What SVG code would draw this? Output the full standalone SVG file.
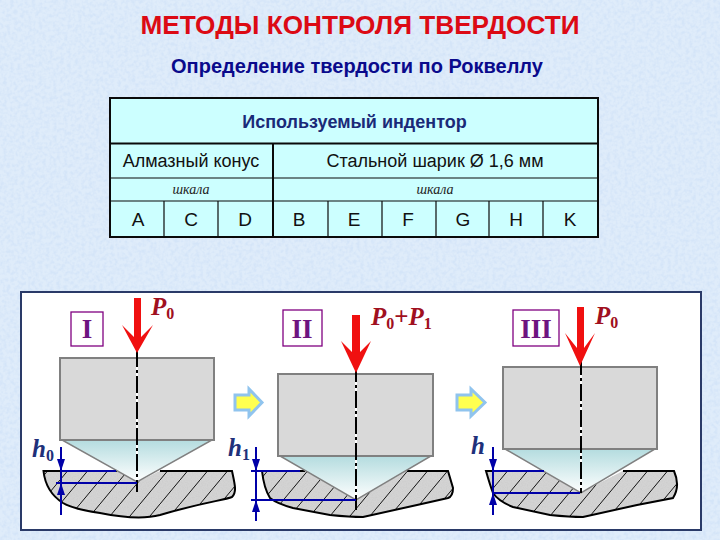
<svg xmlns="http://www.w3.org/2000/svg" width="720" height="540" viewBox="0 0 720 540">
<style>
text{font-family:"Liberation Sans",Arial,sans-serif}
.cell{font-size:18px;fill:#111;text-anchor:middle}
.letter{font-size:19px;fill:#111;text-anchor:middle}
.sc{font-family:"Liberation Serif",serif;font-style:italic;font-size:14px;fill:#222;text-anchor:middle}
.tl{stroke:#0a0a0a;stroke-width:1.2;fill:none}
.tb{stroke:#0a0a0a;stroke-width:2;fill:none}
.body{fill:#d9d9d9;stroke:#808080;stroke-width:2}
.cone{fill:url(#cg);stroke:#808080;stroke-width:1.5}
.spec{fill:#d3d3d3;stroke:none}
.outline{fill:none;stroke:#000;stroke-width:2}
.axb{stroke:#fff;stroke-width:2;fill:none}
.ax{stroke:#000;stroke-width:2;stroke-dasharray:17 3 3 3;fill:none}
.bl{stroke:#0000a8;stroke-width:2;fill:none}
.bh{fill:#0000a8}
.red{fill:#f01010}
.pw{font-family:"Liberation Serif",serif;font-weight:bold;font-style:italic;fill:#a01020;font-size:25px}
.hw{font-family:"Liberation Serif",serif;font-weight:bold;font-style:italic;fill:#20307a;font-size:25px}
.box{fill:#fff;stroke:#800080;stroke-width:1.3}
.rom{font-family:"Liberation Serif",serif;font-weight:bold;fill:#6e1480;font-size:27px;text-anchor:middle}
.blk{fill:#ffff50;stroke:#90c4ee;stroke-width:3}
</style>
<defs>
<filter id="tex" x="0" y="0" width="100%" height="100%"><feTurbulence type="fractalNoise" baseFrequency="0.28" numOctaves="2" seed="4"/><feColorMatrix values="0 0 0 0 0.66  0 0 0 0 0.78  0 0 0 0 0.94  2.6 0 0 0 -1"/></filter>
<filter id="grain" x="0" y="0" width="100%" height="100%"><feTurbulence type="fractalNoise" baseFrequency="0.8" numOctaves="1" seed="9"/><feColorMatrix values="0 0 0 0 0.62  0 0 0 0 0.62  0 0 0 0 0.62  3 0 0 0 -1.2"/></filter>
<linearGradient id="cg" x1="0" y1="0" x2="0" y2="1"><stop offset="0" stop-color="#b4dcdf"/><stop offset="1" stop-color="#ffffff"/></linearGradient>
<pattern id="hatch" width="20" height="24" patternUnits="userSpaceOnUse"><path d="M-1 25.200L21 -1.200" stroke="#111" stroke-width="1"/></pattern>
<clipPath id="c1"><path d="M43.500 471L117 471L137 482L160 471L232 471C235 485 237 492 232 497C225 500 200 503 160 515C145 519 125 518 100 513C80 510 68 506 63 503C52 496 45 485 43.500 471Z"/></clipPath>
<clipPath id="c2"><path d="M262 471L305 471L356 500L407 471L448 471L453 488C453 494 451 497 448 498L417 505L363 517C350 517 340 516 330 515L293 508C282 505 275 502 270 498C265 490 263 480 262 471Z"/></clipPath>
<clipPath id="c3"><path d="M486 471L544 471L580 493L623 471L674 471C678 480 678 490 673 498L637 505L583 517C570 517 560 516 550 515L513 507C503 503 497 499 493 493C490 485 488 478 486 471Z"/></clipPath>
</defs>
<g id="background">
<rect width="720" height="540" fill="#dfecfa"/>
<rect width="720" height="540" filter="url(#tex)"/>
</g>
<g id="title">
<text x="360" y="34" text-anchor="middle" font-size="26" font-weight="bold" fill="#dc0a14" textLength="439" lengthAdjust="spacingAndGlyphs">МЕТОДЫ КОНТРОЛЯ ТВЕРДОСТИ</text>
<text x="357" y="73" text-anchor="middle" font-size="20" font-weight="bold" fill="#0a0a8c">Определение твердости по Роквеллу</text>
</g>
<g id="table">
<rect x="110" y="98" width="488" height="139" fill="#ccffff"/>
<path class="tl" d="M110 178H598M110 201H598M164 201V237M218 201V237M328 201V237M382 201V237M436 201V237M489 201V237M543 201V237"/>
<path class="tb" d="M110 143.500H598M273 143.500V237"/>
<rect class="tb" x="110" y="98" width="488" height="139"/>
<text x="354.500" y="128" text-anchor="middle" font-size="18" font-weight="bold" fill="#1a2a78">Используемый индентор</text>
<text class="cell" x="191" y="167">Алмазный конус</text>
<text class="cell" x="435" y="167">Стальной шарик Ø 1,6 мм</text>
<text class="sc" x="191" y="194">шкала</text>
<text class="sc" x="435" y="194">шкала</text>
<text class="letter" x="138" y="226">A</text>
<text class="letter" x="191" y="226">C</text>
<text class="letter" x="245" y="226">D</text>
<text class="letter" x="299" y="226">B</text>
<text class="letter" x="354" y="226">E</text>
<text class="letter" x="408" y="226">F</text>
<text class="letter" x="463" y="226">G</text>
<text class="letter" x="516" y="226">H</text>
<text class="letter" x="570" y="226">K</text>
</g>
<g id="panel"><rect x="21" y="292" width="680" height="238" fill="#fff" stroke="#2a3a68" stroke-width="2"/></g>
<g id="stage1">
<rect class="box" x="71" y="312" width="32" height="34"/><text class="rom" x="87" y="338">I</text>
<g clip-path="url(#c1)"><rect class="spec" x="40" y="465" width="200" height="60"/><rect x="40" y="465" width="200" height="60" filter="url(#grain)"/><rect x="40" y="465" width="200" height="60" fill="url(#hatch)"/></g>
<path class="outline" d="M117 471L43.500 471C45 485 52 496 63 503C68 506 80 510 100 513C125 518 145 519 160 515C200 503 225 500 232 497C237 492 235 485 232 471L160 471"/>
<path class="cone" d="M62 440L212 440L137 482Z"/>
<rect class="body" x="60" y="358" width="154" height="82"/>
<path class="axb" d="M137 350V492"/><path class="ax" d="M137 350V492"/>
<path class="red" d="M134 298H141V337L153 325L137 353L122 325L134 337Z"/>
<text class="pw" x="151" y="315">P<tspan font-size="16" dy="4" font-style="normal">0</tspan></text>
<path class="bl" d="M61 447V515M61 471H116M56 483H137"/>
<path class="bh" d="M61 471L57 459H65ZM61 483L57 495H65Z"/>
<text class="hw" x="32" y="457">h<tspan font-size="16" dy="4" font-style="normal">0</tspan></text>
</g>
<g id="stage2">
<rect class="box" x="283" y="310" width="39" height="36"/><text class="rom" x="302" y="338">II</text>
<g clip-path="url(#c2)"><rect class="spec" x="255" y="465" width="205" height="60"/><rect x="255" y="465" width="205" height="60" filter="url(#grain)"/><rect x="255" y="465" width="205" height="60" fill="url(#hatch)"/></g>
<path class="outline" d="M305 471L262 471C263 480 265 490 270 498C275 502 282 505 293 508L330 515C340 516 350 517 363 517L417 505L448 498C451 497 453 494 453 488L448 471L407 471"/>
<path class="cone" d="M280 456L431 456L356 500Z"/>
<rect class="body" x="278" y="374" width="155" height="82"/>
<path class="axb" d="M356 365V510"/><path class="ax" d="M356 365V510"/>
<path class="red" d="M352 315H360V352L371 341L356 373L341 341L352 352Z"/>
<text class="pw" x="371" y="325">P<tspan font-size="16" dy="4" font-style="normal">0</tspan><tspan dy="-4" font-style="normal">+</tspan><tspan>P</tspan><tspan font-size="16" dy="4" font-style="normal">1</tspan></text>
<path class="bl" d="M256 447V521M251 471H300M251 500H356"/>
<path class="bh" d="M256 471L252 459H260ZM256 500L252 512H260Z"/>
<text class="hw" x="228" y="456">h<tspan font-size="16" dy="4" font-style="normal">1</tspan></text>
</g>
<g id="stage3">
<rect class="box" x="513" y="310" width="46" height="36"/><text class="rom" x="536" y="338">III</text>
<g clip-path="url(#c3)"><rect class="spec" x="480" y="465" width="205" height="60"/><rect x="480" y="465" width="205" height="60" filter="url(#grain)"/><rect x="480" y="465" width="205" height="60" fill="url(#hatch)"/></g>
<path class="outline" d="M544 471L486 471C488 478 490 485 493 493C497 499 503 503 513 507L550 515C560 516 570 517 583 517L637 505L673 498C678 490 678 480 674 471L623 471"/>
<path class="cone" d="M505 449L655 449L581 493Z"/>
<rect class="body" x="503" y="367" width="154" height="82"/>
<path class="axb" d="M581 358V493"/><path class="ax" d="M581 358V493"/>
<path class="red" d="M577 307H584V348L595 333L580 366L565 333L577 348Z"/>
<text class="pw" x="595" y="324">P<tspan font-size="16" dy="4" font-style="normal">0</tspan></text>
<path class="bl" d="M493 447V515M493 471H544M493 493H580"/>
<path class="bh" d="M493 471L489 459H497ZM493 493L489 505H497Z"/>
<text class="hw" x="471" y="454">h</text>
</g>
<g id="connectors">
<path class="blk" d="M235 395H249V389L262 402.500L249 416V410H235Z"/>
<path class="blk" d="M457 395H471V389L485 402.500L471 416V410H457Z"/>
</g>
</svg>
